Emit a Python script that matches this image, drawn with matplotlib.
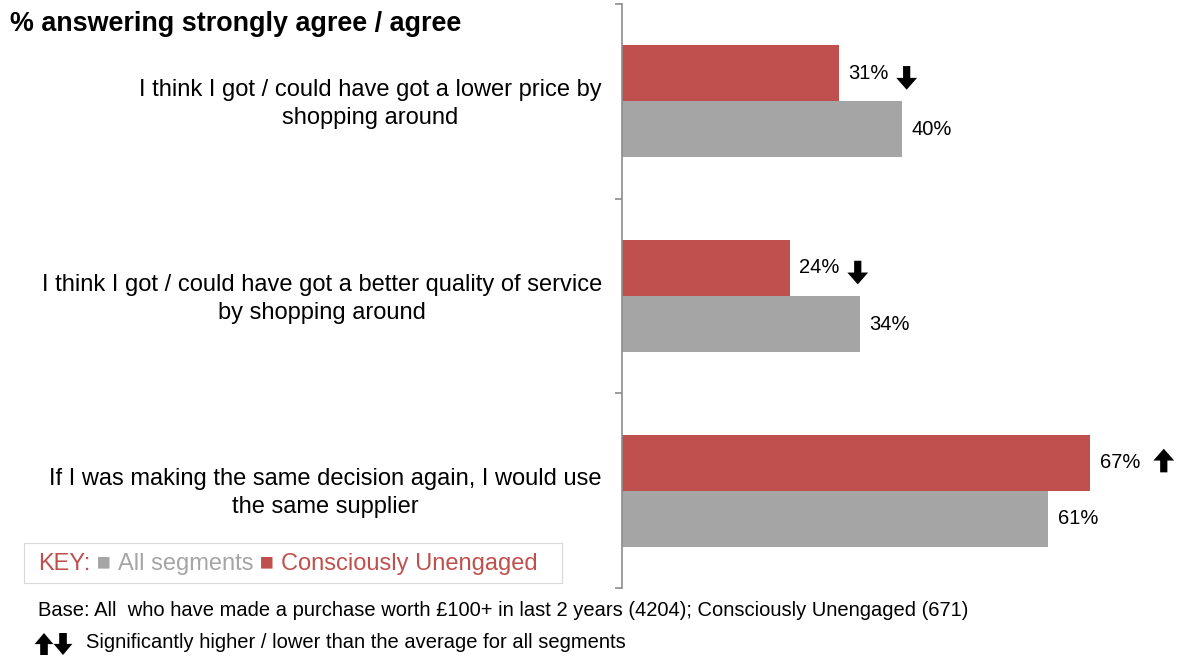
import numpy as np
import matplotlib.pyplot as plt
from matplotlib.transforms import offset_copy

statements = [
    "I think I got / could have got a lower price by\nshopping around",
    "I think I got / could have got a better quality of service\nby shopping around",
    "If I was making the same decision again, I would use\nthe same supplier",
]
unengaged = [31, 24, 67]
all_segments = [40, 34, 61]
sig_flags = ["down", "down", "up"]

RED = "#C0504D"
GREY = "#A5A5A5"
AXIS = "#8C8C8C"

plt.rcParams['font.family'] = ['Liberation Sans', 'DejaVu Sans']

W, H = 1181, 656
fig = plt.figure(figsize=(W / 100, H / 100), dpi=100)
ax = fig.add_axes([622 / W, (H - 588) / H, 559 / W, 584 / H])

ARROW = dict(arrowstyle="simple,head_length=8.5,head_width=15,tail_width=5.2",
             mutation_scale=1, color='black', shrinkA=0, shrinkB=0, lw=0)


def sig_arrow(x, y, direction):
    # heavy arrow placed to the right of the value label, 17pt long
    if direction == "down":
        tip, dx, dy = -8.5, 49, -3.3
    else:
        tip, dx, dy = 8.5, 53, 1.5
    tr = offset_copy(ax.transData, fig=fig, x=dx, y=dy + tip, units='points')
    ax.annotate("", xy=(x, y), xycoords=tr, xytext=(0, -2 * tip),
                textcoords='offset points', arrowprops=ARROW)


y = np.arange(len(statements))
h = 0.288
ax.barh(y - h / 2, unengaged, height=h, color=RED)
ax.barh(y + h / 2, all_segments, height=h, color=GREY)
ax.set_xlim(0, 80)
ax.set_ylim(len(statements) - 0.5, -0.5)

for i in range(len(statements)):
    ax.annotate(f"{unengaged[i]}%", (unengaged[i], y[i] - h / 2),
                xytext=(7, 0), textcoords='offset points',
                va='center', ha='left', fontsize=14.5)
    ax.annotate(f"{all_segments[i]}%", (all_segments[i], y[i] + h / 2),
                xytext=(7, 0), textcoords='offset points',
                va='center', ha='left', fontsize=14.5)
    sig_arrow(unengaged[i], y[i] - h / 2, sig_flags[i])

# axis: only the left spine with outward ticks between the groups
for s in ['top', 'right', 'bottom']:
    ax.spines[s].set_visible(False)
ax.spines['left'].set_color(AXIS)
ax.spines['left'].set_linewidth(1.2)
ax.set_xticks([])
ax.set_yticks(np.arange(-0.5, len(statements)), labels=[])
ax.tick_params(axis='y', direction='out', length=5, color=AXIS, width=1.2)

for i, s in enumerate(statements):
    ax.annotate(s, (0, y[i]), xytext=(-14.5, -2), textcoords='offset points',
                ha='right', va='center', multialignment='center',
                fontsize=17, linespacing=1.35)

fig.text(10 / W, 1 - 24 / H, "% answering strongly agree / agree",
         fontsize=19.4, fontweight='bold', va='center', ha='left')

# key box
key_ax = fig.add_axes([24 / W, (H - 583) / H, 538 / W, 40 / H])
key_ax.set_xticks([])
key_ax.set_yticks([])
for s in key_ax.spines.values():
    s.set_color('#D9D9D9')
key_items = [("KEY:", RED), (" \u25a0 ", GREY), ("All segments", GREY),
             (" \u25a0 ", RED), ("Consciously Unengaged", RED)]
t = key_ax.text(14 / 538, 0.47, key_items[0][0], color=key_items[0][1],
                fontsize=17, va='center', ha='left', transform=key_ax.transAxes)
for txt, col in key_items[1:]:
    t = key_ax.annotate(txt, xycoords=t, xy=(1, 0), va='bottom',
                        color=col, fontsize=17)

fig.text(38 / W, 1 - 610 / H,
         "Base: All  who have made a purchase worth \u00a3100+ in last 2 years (4204); "
         "Consciously Unengaged (671)", fontsize=14.5, va='center', ha='left')
fig.text(86 / W, 1 - 642 / H, "Significantly higher / lower than the average for all segments",
         fontsize=14.5, va='center', ha='left')

# up / down symbols in the footnote
FOOT_ARROW = dict(ARROW, arrowstyle="simple,head_length=8,head_width=13.5,tail_width=5.5")
fig.add_artist(plt.Annotation("", xy=(44, 23), xycoords='figure pixels', xytext=(44, 1),
                              textcoords='figure pixels', arrowprops=FOOT_ARROW))
fig.add_artist(plt.Annotation("", xy=(63, 1), xycoords='figure pixels', xytext=(63, 23),
                              textcoords='figure pixels', arrowprops=FOOT_ARROW))

fig.savefig("out.png", dpi=100)
